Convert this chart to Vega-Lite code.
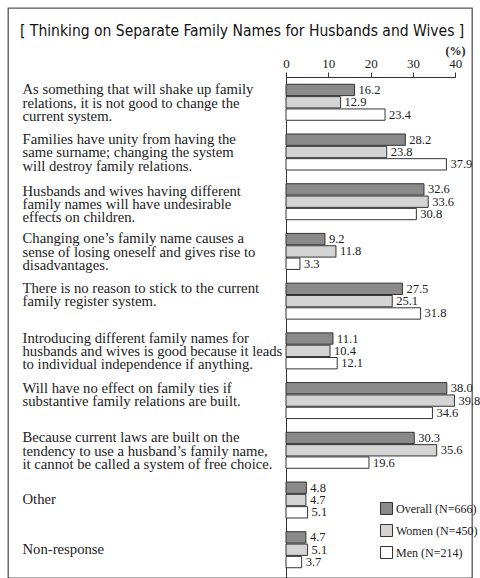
{
  "$schema": "https://vega.github.io/schema/vega-lite/v6.json",
  "autosize": "none",
  "width": 464,
  "height": 570,
  "padding": {"left": 8, "top": 8, "right": 8, "bottom": 0},
  "background": "white",
  "config": {
    "view": {"stroke": "#555", "strokeWidth": 1.3},
    "font": "Liberation Serif"
  },
  "title": {
    "text": "[ Thinking on Separate Family Names for Husbands and Wives ]",
    "anchor": "start",
    "frame": "group",
    "offset": -31,
    "dx": 12,
    "font": "DejaVu Sans Condensed, Roboto, sans-serif",
    "fontSize": 15.5,
    "fontWeight": "normal",
    "color": "#111"
  },
  "data": {
    "values": [
      {"item": "As something that will shake up family|relations, it is not good to change the|current system.", "group": "Overall (N=666)", "pct": 16.2},
      {"item": "As something that will shake up family|relations, it is not good to change the|current system.", "group": "Women (N=450)", "pct": 12.9},
      {"item": "As something that will shake up family|relations, it is not good to change the|current system.", "group": "Men (N=214)", "pct": 23.4},
      {"item": "Families have unity from having the|same surname; changing the system|will destroy family relations.", "group": "Overall (N=666)", "pct": 28.2},
      {"item": "Families have unity from having the|same surname; changing the system|will destroy family relations.", "group": "Women (N=450)", "pct": 23.8},
      {"item": "Families have unity from having the|same surname; changing the system|will destroy family relations.", "group": "Men (N=214)", "pct": 37.9},
      {"item": "Husbands and wives having different|family names will have undesirable|effects on children.", "group": "Overall (N=666)", "pct": 32.6},
      {"item": "Husbands and wives having different|family names will have undesirable|effects on children.", "group": "Women (N=450)", "pct": 33.6},
      {"item": "Husbands and wives having different|family names will have undesirable|effects on children.", "group": "Men (N=214)", "pct": 30.8},
      {"item": "Changing one’s family name causes a|sense of losing oneself and gives rise to|disadvantages.", "group": "Overall (N=666)", "pct": 9.2},
      {"item": "Changing one’s family name causes a|sense of losing oneself and gives rise to|disadvantages.", "group": "Women (N=450)", "pct": 11.8},
      {"item": "Changing one’s family name causes a|sense of losing oneself and gives rise to|disadvantages.", "group": "Men (N=214)", "pct": 3.3},
      {"item": "There is no reason to stick to the current|family register system.", "group": "Overall (N=666)", "pct": 27.5},
      {"item": "There is no reason to stick to the current|family register system.", "group": "Women (N=450)", "pct": 25.1},
      {"item": "There is no reason to stick to the current|family register system.", "group": "Men (N=214)", "pct": 31.8},
      {"item": "Introducing different family names for|husbands and wives is good because it leads|to individual independence if anything.", "group": "Overall (N=666)", "pct": 11.1},
      {"item": "Introducing different family names for|husbands and wives is good because it leads|to individual independence if anything.", "group": "Women (N=450)", "pct": 10.4},
      {"item": "Introducing different family names for|husbands and wives is good because it leads|to individual independence if anything.", "group": "Men (N=214)", "pct": 12.1},
      {"item": "Will have no effect on family ties if|substantive family relations are built.", "group": "Overall (N=666)", "pct": 38.0},
      {"item": "Will have no effect on family ties if|substantive family relations are built.", "group": "Women (N=450)", "pct": 39.8},
      {"item": "Will have no effect on family ties if|substantive family relations are built.", "group": "Men (N=214)", "pct": 34.6},
      {"item": "Because current laws are built on the|tendency to use a husband’s family name,|it cannot be called a system of free choice.", "group": "Overall (N=666)", "pct": 30.3},
      {"item": "Because current laws are built on the|tendency to use a husband’s family name,|it cannot be called a system of free choice.", "group": "Women (N=450)", "pct": 35.6},
      {"item": "Because current laws are built on the|tendency to use a husband’s family name,|it cannot be called a system of free choice.", "group": "Men (N=214)", "pct": 19.6},
      {"item": "Other", "group": "Overall (N=666)", "pct": 4.8},
      {"item": "Other", "group": "Women (N=450)", "pct": 4.7},
      {"item": "Other", "group": "Men (N=214)", "pct": 5.1},
      {"item": "Non-response", "group": "Overall (N=666)", "pct": 4.7},
      {"item": "Non-response", "group": "Women (N=450)", "pct": 5.1},
      {"item": "Non-response", "group": "Men (N=214)", "pct": 3.7}
    ]
  },
  "encoding": {
    "y": {
      "field": "item",
      "type": "nominal",
      "sort": null,
      "scale": {"range": [69, 575], "paddingInner": 0.276, "paddingOuter": 0.227, "align": 0.323},
      "axis": {
        "title": null,
        "orient": "left",
        "offset": -278,
        "domain": true,
        "domainColor": "#333",
        "domainWidth": 1,
        "ticks": false,
        "labelPadding": 264,
        "labelAlign": "left",
        "labelBaseline": "middle",
        "labelFont": "Liberation Serif",
        "labelFontSize": 14.7,
        "labelLineHeight": 13.3,
        "labelLimit": 0,
        "labelColor": "#222",
        "labelOffset": {
          "condition": [
            {"test": "indexof(datum.value, 'Husbands and wives having') == 0", "value": -10},
            {"test": "indexof(datum.value, '|') < 0", "value": 0}
          ],
          "value": -12
        },
        "labelExpr": "split(datum.value, '|')"
      }
    },
    "yOffset": {
      "field": "group",
      "type": "nominal",
      "sort": ["Overall (N=666)", "Women (N=450)", "Men (N=214)"],
      "scale": {"paddingInner": 0.08, "paddingOuter": 0}
    },
    "x": {
      "field": "pct",
      "type": "quantitative",
      "scale": {"domain": [0, 40], "range": [278, 447.3], "nice": false, "zero": true},
      "axis": {
        "orient": "top",
        "offset": -69,
        "values": [0, 10, 20, 30, 40],
        "grid": false,
        "tickSize": 5,
        "tickColor": "#333",
        "domainColor": "#333",
        "labelPadding": 2,
        "labelFlush": false,
        "labelOverlap": false,
        "labelFont": "Liberation Serif",
        "labelFontSize": 13,
        "labelColor": "#222",
        "title": "(%)",
        "titleFont": "Liberation Serif",
        "titleFontSize": 12,
        "titleFontWeight": "bold",
        "titleColor": "#222",
        "titleX": 457,
        "titleY": -27,
        "titleAlign": "right",
        "titleBaseline": "middle"
      }
    }
  },
  "layer": [
    {
      "mark": {"type": "bar", "stroke": "#333", "strokeWidth": 1},
      "encoding": {
        "fill": {
          "field": "group",
          "type": "nominal",
          "sort": ["Overall (N=666)", "Women (N=450)", "Men (N=214)"],
          "scale": {"domain": ["Overall (N=666)", "Women (N=450)", "Men (N=214)"], "range": ["#8a8a8a", "#d4d4d4", "#ffffff"]},
          "legend": {
            "title": null,
            "orient": "none",
            "legendX": 372,
            "legendY": 494,
            "padding": 0,
            "symbolType": "square",
            "symbolSize": 144,
            "symbolStrokeColor": "#333",
            "symbolStrokeWidth": 1,
            "symbolOpacity": 1,
            "labelFont": "Liberation Serif",
            "labelFontSize": 12,
            "labelColor": "#222",
            "labelOffset": 3,
            "rowPadding": 5
          }
        }
      }
    },
    {
      "mark": {"type": "text", "align": "left", "baseline": "middle", "dx": 4, "font": "Liberation Serif", "fontSize": 12.5, "color": "#222"},
      "encoding": {
        "text": {"field": "pct", "type": "quantitative", "format": ".1f"}
      }
    }
  ]
}
